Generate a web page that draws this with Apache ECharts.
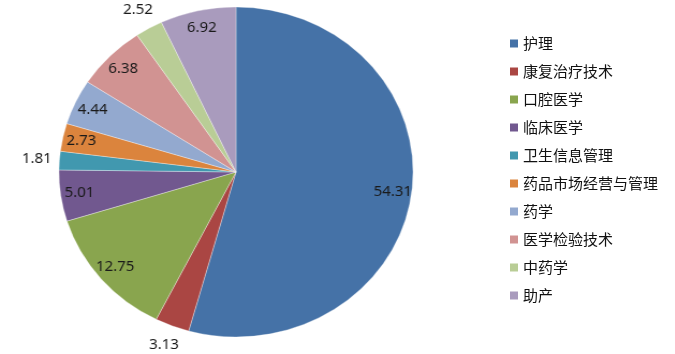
<!DOCTYPE html>
<html lang="zh">
<head>
  <meta charset="UTF-8">
  <title>专业分布饼图</title>
  <style>
    html, body { margin: 0; padding: 0; width: 675px; height: 354px; background: #fff; overflow: hidden; }
    #pie { position: absolute; left: 0; top: 0; width: 475px; height: 354px;
           transform: scaleX(1.073); transform-origin: 236px 172px; }
    #legend { position: absolute; left: 480px; top: 0; width: 195px; height: 354px; }
  </style>
</head>
<body>
  <div id="pie"></div>
  <div id="legend"></div>
  <script src="https://cdn.jsdelivr.net/npm/echarts@6/dist/echarts.min.js"></script>
  <script type="text/javascript">
    // 数据
    const names = ['护理', '康复治疗技术', '口腔医学', '临床医学', '卫生信息管理',
      '药品市场经营与管理', '药学', '医学检验技术', '中药学', '助产'];
    const values = [54.31, 3.13, 12.75, 5.01, 1.81, 2.73, 4.44, 6.38, 2.52, 6.92];
    const colors = ['#4572A7', '#AA4643', '#89A54E', '#71588F', '#4198AF',
      '#DB843D', '#93A9CF', '#D19392', '#B9CD96', '#A99BBD'];
    // 标签放在外侧的扇区
    const outsideNames = ['康复治疗技术', '卫生信息管理', '中药学'];

    const center = [236, 172];
    const R = 165;
    const labelFont = { fontSize: 14, color: '#1a1a1a', fontFamily: 'Noto Sans' };

    const pieData = names.map((n, i) => ({ name: n, value: values[i], itemStyle: { color: colors[i] } }));

    // 透明环，用来摆放数值标签
    const ringData = (outside) => names.map((n, i) => ({
      name: n,
      value: values[i],
      label: { show: outsideNames.includes(n) === outside }
    }));

    const ringSeries = (radius, outside) => ({
      type: 'pie',
      center: center,
      radius: radius,
      silent: true,
      animation: false,
      avoidLabelOverlap: false,
      itemStyle: { color: 'transparent', borderWidth: 0 },
      label: Object.assign({ position: 'inside', formatter: p => p.value.toFixed(2) }, labelFont),
      labelLine: { show: false },
      emphasis: { disabled: true },
      data: ringData(outside)
    });

    const pieChart = echarts.init(document.getElementById('pie'));
    pieChart.setOption({
      animation: false,
      series: [
        {
          type: 'pie',
          center: center,
          radius: [0, R],
          animation: false,
          label: { show: false },
          labelLine: { show: false },
          itemStyle: { borderColor: 'rgba(255,255,255,0.55)', borderWidth: 0.6 },
          emphasis: { disabled: true },
          data: pieData
        },
        ringSeries([124, R], false),
        ringSeries([R, R + 36], true)
      ]
    });

    // 图例单独一个实例，不受横向拉伸影响
    const legendChart = echarts.init(document.getElementById('legend'));
    legendChart.setOption({
      animation: false,
      legend: {
        orient: 'vertical',
        left: 25,
        top: 31,
        icon: 'rect',
        itemWidth: 8,
        itemHeight: 8,
        itemGap: 13,
        textStyle: { fontSize: 15, lineHeight: 15, color: '#111', fontFamily: 'Noto Sans CJK SC' },
        data: names
      },
      series: [{
        type: 'pie',
        radius: [0, 0],
        center: [-100, -100],
        label: { show: false },
        labelLine: { show: false },
        silent: true,
        data: pieData
      }]
    });
  </script>
</body>
</html>
